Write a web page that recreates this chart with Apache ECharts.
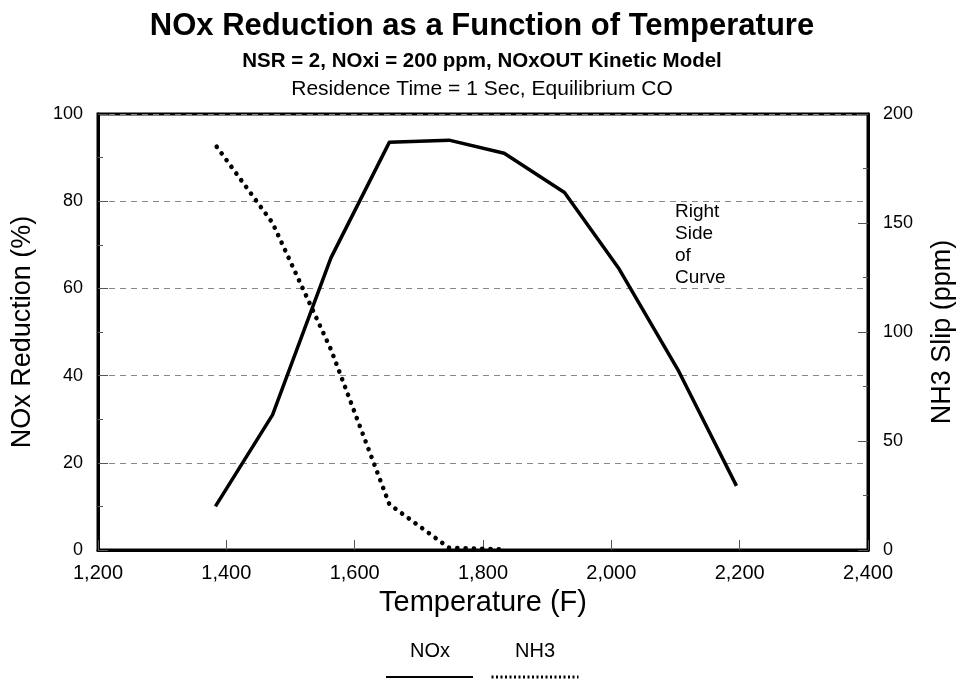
<!DOCTYPE html>
<html>
<head>
<meta charset="utf-8">
<script src="https://cdn.jsdelivr.net/npm/echarts@6/dist/echarts.min.js"></script>
<style>
  html, body { margin: 0; padding: 0; background: #fff; }
  #main { width: 964px; height: 681px; }
</style>
</head>
<body>
<div id="main"></div>
<script>
// values
const noxTemps = [1383, 1472, 1563, 1654, 1747, 1833, 1927, 2012, 2105, 2195];
const noxReduction = [10, 31, 67, 93.5, 94, 91, 82, 64.5, 41, 14.7];
const nh3Temps = [1385, 1472, 1563, 1654, 1747, 1833];
const nh3Slip = [185, 150, 92, 21, 1, 0.3];
const legendNames = ['NOx', 'NH3'];

const FONT = '"Liberation Sans", Arial, sans-serif';

function withComma(v) {
  const s = String(v);
  return s.length > 3 ? s.slice(0, s.length - 3) + ',' + s.slice(-3) : s;
}

const chart = echarts.init(document.getElementById('main'), null, { renderer: 'canvas' });

const option = {
  backgroundColor: '#fff',
  animation: false,
  textStyle: { fontFamily: FONT, color: '#000' },
  title: [
    {
      text: 'NOx Reduction as a Function of Temperature',
      left: 'center', top: 6,
      textStyle: { fontFamily: FONT, fontSize: 31, fontWeight: 'bold', color: '#000' }
    },
    {
      text: 'NSR = 2, NOxi = 200 ppm, NOxOUT Kinetic Model',
      left: 'center', top: 46,
      textStyle: { fontFamily: FONT, fontSize: 20.5, fontWeight: 'bold', color: '#000' }
    },
    {
      text: 'Residence Time = 1 Sec, Equilibrium CO',
      left: 'center', top: 74,
      textStyle: { fontFamily: FONT, fontSize: 21, fontWeight: 'normal', color: '#000' }
    }
  ],
  grid: {
    left: 98, right: 95, top: 114, bottom: 131,
    show: true, borderColor: '#000', borderWidth: 3, backgroundColor: 'transparent'
  },
  legend: {
    data: [
      { name: legendNames[0] },
      { name: legendNames[1], lineStyle: { type: [2, 2.5], width: 3, cap: 'butt' } }
    ],
    left: 385, top: 673,
    padding: 0,
    itemWidth: 87, itemHeight: 8,
    itemGap: 16,
    formatter: function () { return ''; },
    textStyle: { fontSize: 1 },
    itemStyle: { color: 'transparent', borderColor: 'transparent', borderWidth: 0 },
    selectedMode: false
  },
  xAxis: {
    type: 'value',
    min: 1200, max: 2400, interval: 200,
    name: 'Temperature (F)',
    nameLocation: 'middle',
    nameGap: 38,
    nameTextStyle: { fontFamily: FONT, fontSize: 29, color: '#000' },
    axisLine: { show: true, lineStyle: { color: '#000', width: 3 } },
    axisTick: { show: true, inside: true, length: 10, lineStyle: { color: '#555', width: 1 } },
    axisLabel: { fontFamily: FONT, fontSize: 20, color: '#000', margin: 13, formatter: withComma },
    splitLine: { show: false }
  },
  yAxis: [
    {
      type: 'value',
      min: 0, max: 100, interval: 20,
      name: 'NOx Reduction (%)',
      nameLocation: 'middle',
      nameRotate: 90,
      nameGap: 62,
      nameTextStyle: { fontFamily: FONT, fontSize: 27, color: '#000' },
      axisLine: { show: true, lineStyle: { color: '#000', width: 3 } },
      axisTick: { show: true, inside: true, length: 10, lineStyle: { color: '#555', width: 1 } },
      minorTick: { show: true, splitNumber: 2, length: 5, lineStyle: { color: '#555', width: 1 } },
      axisLabel: { fontFamily: FONT, fontSize: 18, color: '#000', margin: 15 },
      splitLine: { show: true, lineStyle: { color: '#888', width: 1, type: [6, 5] } }
    },
    {
      type: 'value',
      min: 0, max: 200, interval: 50,
      position: 'right',
      name: 'NH3 Slip (ppm)',
      nameLocation: 'middle',
      nameRotate: 90,
      nameGap: 61,
      nameTextStyle: { fontFamily: FONT, fontSize: 27, color: '#000' },
      axisLine: { show: true, lineStyle: { color: '#000', width: 3 } },
      axisTick: { show: true, inside: true, length: 10, lineStyle: { color: '#555', width: 1 } },
      minorTick: { show: true, splitNumber: 2, length: 5, lineStyle: { color: '#555', width: 1 } },
      axisLabel: { fontFamily: FONT, fontSize: 18, color: '#000', margin: 15 },
      splitLine: { show: false }
    }
  ],
  graphic: [
    {
      type: 'text', left: 675, top: 201,
      style: { text: 'Right\nSide\nof\nCurve', font: '19px ' + FONT, fill: '#000', lineHeight: 22 }
    },
    {
      type: 'text', left: 410, top: 641,
      style: { text: legendNames[0], font: '20px ' + FONT, fill: '#000' }
    },
    {
      type: 'text', left: 515, top: 641,
      style: { text: legendNames[1], font: '20px ' + FONT, fill: '#000' }
    }
  ],
  series: [
    {
      name: legendNames[0],
      type: 'line',
      yAxisIndex: 0,
      data: noxTemps.map((t, i) => [t, noxReduction[i]]),
      showSymbol: false,
      symbol: 'none',
      lineStyle: { color: '#000', width: 3.5, join: 'round' },
      itemStyle: { color: '#000' },
      z: 3
    },
    {
      name: legendNames[1],
      type: 'line',
      yAxisIndex: 1,
      data: nh3Temps.map((t, i) => [t, nh3Slip[i]]),
      showSymbol: false,
      symbol: 'none',
      lineStyle: { color: '#000', width: 4.6, type: [0.1, 8.2], cap: 'round' },
      itemStyle: { color: '#000' },
      z: 3
    }
  ]
};

chart.setOption(option);
</script>
</body>
</html>
